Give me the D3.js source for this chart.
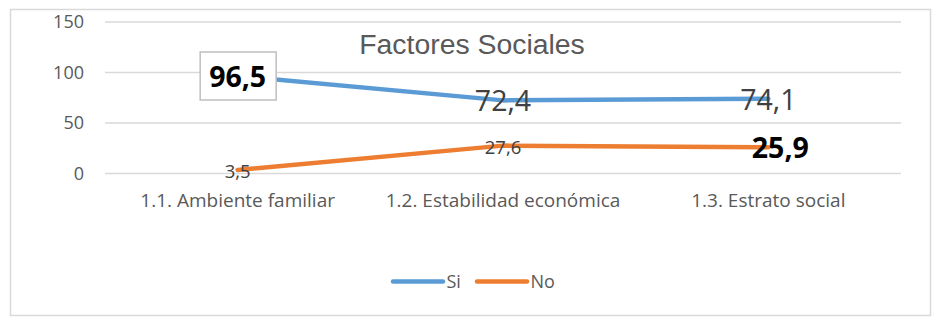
<!DOCTYPE html>
<html><head><meta charset="utf-8">
<script src="https://cdn.jsdelivr.net/npm/d3@7"></script>
<style>body{margin:0;background:#fff}svg{display:block}text{font-family:"Open Sans",sans-serif}</style>
</head><body><svg id="c" width="937" height="326"></svg>
<script>
const categories = ["1.1. Ambiente familiar", "1.2. Estabilidad económica", "1.3. Estrato social"];
const siValues = [96.5, 72.4, 74.1];
const noValues = [3.5, 27.6, 25.9];
const yTicks = [0, 50, 100, 150];
const seriesNames = ["Si", "No"];
const siLabels = ["96,5", "72,4", "74,1"];
const noLabels = ["3,5", "27,6", "25,9"];
const title = "Factores Sociales";

const svg = d3.select("#c");
const colors = {Si: "#5B9BD5", No: "#ED7D31"};

svg.append("rect").attr("x", 10.5).attr("y", 9.5).attr("width", 920).attr("height", 306)
  .attr("fill", "#fff").attr("stroke", "#d9d9d9").attr("stroke-width", 1.5);

const x = d3.scaleBand().domain(categories).range([105, 901]);
const y = d3.scaleLinear().domain([0, 150]).range([173.5, 22]);
const cx = d => x(d) + x.bandwidth() / 2;

// gridlines
svg.append("g").selectAll("line").data(yTicks).join("line")
  .attr("x1", 105).attr("x2", 901).attr("y1", d => y(d)).attr("y2", d => y(d))
  .attr("stroke", "#d9d9d9").attr("stroke-width", 1.5);

// y axis labels
const yAxis = d3.axisLeft(y).tickValues(yTicks).tickSize(0).tickPadding(0);
const ya = svg.append("g").attr("transform", "translate(84,0)").call(yAxis);
ya.select(".domain").remove();
ya.selectAll("text").attr("font-size", 18).attr("fill", "#595959").style("font-family", "Open Sans");

// x axis labels
const xAxis = d3.axisBottom(x).tickSize(0).tickPadding(0);
const xa = svg.append("g").attr("transform", "translate(0,207)").call(xAxis);
xa.select(".domain").remove();
xa.selectAll("text").attr("font-size", 19).attr("fill", "#595959").style("font-family", "Open Sans").attr("y", 0).attr("dy", 0);

// title
svg.append("text").attr("x", 472).attr("y", 54).attr("text-anchor", "middle")
  .style("font-family", "'Liberation Sans', Arial, sans-serif")
  .attr("font-size", 28.4).attr("fill", "#595959").text(title);

// lines
const line = d3.line().x((d, i) => cx(categories[i])).y(d => y(d));
[["Si", siValues], ["No", noValues]].forEach(([n, vals]) => {
  svg.append("path").datum(vals).attr("d", line).attr("fill", "none")
    .attr("stroke", colors[n]).attr("stroke-width", 4.5).attr("stroke-linecap", "round").attr("stroke-linejoin", "round");
});

// data labels
const g = svg.append("g");
const p0x = cx(categories[0]);
g.append("rect").attr("x", p0x - 37.5).attr("y", 52).attr("width", 76).attr("height", 48)
  .attr("fill", "#fff").attr("stroke", "#bfbfbf").attr("stroke-width", 1.5);
g.append("text").attr("x", p0x).attr("y", 87).attr("text-anchor", "middle")
  .attr("font-size", 28.5).attr("font-weight", "bold").attr("fill", "#000").text(siLabels[0]);
g.append("text").attr("x", cx(categories[1])).attr("y", y(siValues[1]) + 11).attr("text-anchor", "middle")
  .attr("font-size", 28.5).attr("fill", "#404040").text(siLabels[1]);
g.append("text").attr("x", cx(categories[2])).attr("y", y(siValues[2]) + 11).attr("text-anchor", "middle")
  .attr("font-size", 28.5).attr("fill", "#404040").text(siLabels[2]);
g.append("text").attr("x", cx(categories[0])).attr("y", y(noValues[0]) + 8).attr("text-anchor", "middle")
  .attr("font-size", 18.5).attr("fill", "#404040").text(noLabels[0]);
g.append("text").attr("x", cx(categories[1])).attr("y", y(noValues[1]) + 8).attr("text-anchor", "middle")
  .attr("font-size", 18.5).attr("fill", "#404040").text(noLabels[1]);
g.append("text").attr("x", cx(categories[2]) + 12).attr("y", y(noValues[2]) + 11).attr("text-anchor", "middle")
  .attr("font-size", 28.5).attr("font-weight", "bold").attr("fill", "#000").text(noLabels[2]);

// legend
const leg = svg.append("g");
const legX = [393, 477];
seriesNames.forEach((n, i) => {
  leg.append("line").attr("x1", legX[i]).attr("x2", legX[i] + 50).attr("y1", 281.5).attr("y2", 281.5)
    .attr("stroke", colors[n]).attr("stroke-width", 4.5).attr("stroke-linecap", "round");
  leg.append("text").attr("x", legX[i] + 53.5).attr("y", 288).attr("font-size", 18).attr("fill", "#595959").text(n);
});
</script></body></html>
